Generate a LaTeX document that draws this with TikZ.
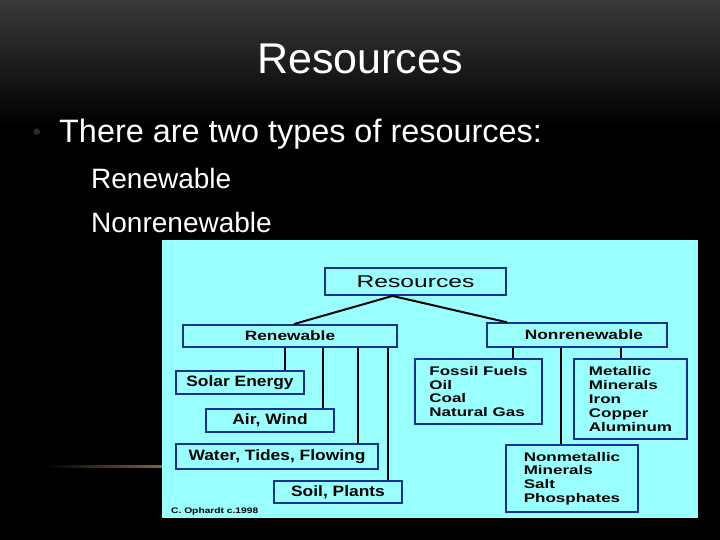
\documentclass[tikz,border=0pt]{standalone}
\usepackage{fontspec}
\setmainfont{Liberation Sans}
\newfontfamily\panelfont[FakeStretch=1.28]{Liberation Sans}
\newfontfamily\leaffont[FakeStretch=1.16]{Liberation Sans}
\newfontfamily\listfont[FakeStretch=1.36]{Liberation Sans}
\newfontfamily\panelwide[FakeStretch=1.45]{Liberation Sans}
\definecolor{panelcyan}{RGB}{153,255,255}
\definecolor{boxblue}{RGB}{22,48,150}
\definecolor{streak}{RGB}{130,100,55}
\definecolor{topgray}{RGB}{58,58,58}
\tikzset{
  pbox/.style={draw=boxblue, line width=1.9pt, inner sep=0pt, text=black,
    font=\panelfont\bfseries\fontsize{13.5}{13.7}\selectfont},
  leafbox/.style={pbox, font=\leaffont\bfseries\fontsize{15}{16}\selectfont},
  listbox/.style={pbox, align=left, font=\listfont\bfseries\fontsize{12.5}{13.8}\selectfont},
  conn/.style={draw=black, line width=2pt},
  slide/.style={text=white, inner sep=0pt, anchor=base west}
}
\begin{document}
\begin{tikzpicture}[x=1pt,y=-1pt]
\useasboundingbox (0,0) rectangle (720,540);
% background
\fill[black] (0,0) rectangle (720,540);
\shade[top color=topgray, bottom color=black] (0,0) rectangle (720,125);
\shade[left color=black, right color=streak] (45,465.8) rectangle (162,467.4);
% slide text
\node[text=white, inner sep=0pt, anchor=base, font=\fontsize{43}{50}\selectfont] (title) at (360,74) {Resources};
\fill[gray!35!black] (36.7,131.7) circle (3.3);
\node[slide, font=\fontsize{32.4}{38}\selectfont] (bullet) at (59,143) {There are two types of resources:};
\node[slide, font=\fontsize{28}{33}\selectfont] (l1) at (91,188.5) {Renewable};
\node[slide, font=\fontsize{28}{33}\selectfont] (l2) at (91,233) {Nonrenewable};
% panel
\fill[panelcyan] (162,240) rectangle (698,518);
% boxes
\node[pbox, minimum width=181pt, minimum height=27pt, font=\panelwide\fontsize{17}{20}\selectfont] (res) at (415.5,281.5) {Resources};
\node[pbox, minimum width=214pt, minimum height=22pt] (ren) at (290,336) {Renewable};
\node[pbox, minimum width=180pt, minimum height=23.5pt] (non) at (577,335) {\hspace*{14pt}Nonrenewable};
\node[leafbox, minimum width=128pt, minimum height=23pt] (solar) at (240,382.5) {Solar Energy};
\node[leafbox, minimum width=128pt, minimum height=23pt] (air) at (270,420.5) {Air, Wind};
\node[leafbox, minimum width=202pt, minimum height=25pt] (water) at (277,456.5) {Water, Tides, Flowing};
\node[leafbox, minimum width=128pt, minimum height=22pt] (soil) at (338,492) {Soil, Plants};
\node[listbox, minimum width=127pt, minimum height=65pt] (fossil) at (478.5,391.5) {Fossil Fuels\\Oil\\Coal\\Natural Gas};
\node[listbox, minimum width=113pt, minimum height=80pt] (metal) at (630.5,399) {Metallic\\Minerals\\Iron\\Copper\\Aluminum};
\node[listbox, minimum width=132pt, minimum height=67pt] (nonmet) at (572,478.5) {Nonmetallic\\Minerals\\Salt\\Phosphates};
\node[anchor=base west, inner sep=0pt, text=black, font=\panelfont\bfseries\fontsize{8}{9}\selectfont] (credit) at (171,513) {C. Ophardt c.1998};
% connectors
\draw[conn] ([xshift=-23pt]res.south) -- ([xshift=4pt]ren.north);
\draw[conn] ([xshift=-23pt]res.south) -- ([xshift=-70pt]non.north);
\draw[conn] ([xshift=-5pt]ren.south) -- ([xshift=45pt]solar.north);
\draw[conn] ([xshift=32.5pt]ren.south) -- ([xshift=52.5pt]air.north);
\draw[conn] ([xshift=68.3pt]ren.south) -- ([xshift=81.3pt]water.north);
\draw[conn] ([xshift=98.3pt]ren.south) -- ([xshift=50.3pt]soil.north);
\draw[conn] ([xshift=-63.7pt]non.south) -- ([xshift=34.8pt]fossil.north);
\draw[conn] ([xshift=-16.5pt]non.south) -- ([xshift=-11.5pt]nonmet.north);
\draw[conn] ([xshift=43.7pt]non.south) -- ([xshift=-9.8pt]metal.north);
\end{tikzpicture}
\end{document}
